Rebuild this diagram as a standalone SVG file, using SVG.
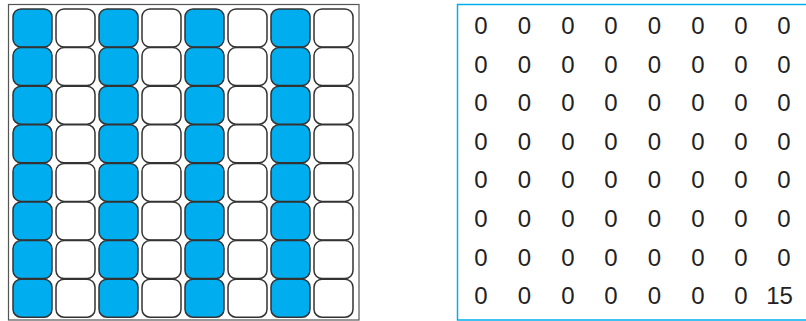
<svg xmlns="http://www.w3.org/2000/svg" width="806" height="321" viewBox="0 0 806 321">
<style>
.frame{fill:none;stroke:#555;stroke-width:1.2}
.panel{fill:none;stroke:#00AEEF;stroke-width:1.5}
.c{stroke:#333;stroke-width:1.5}
.b{fill:#00AEEF}
.w{fill:#fff}
.t{font-family:"Liberation Sans",Arial,sans-serif;font-size:24px;fill:#222;text-anchor:middle}
</style>
<rect width="806" height="321" fill="#fff"/>
<g id="grid">
<rect class="frame" x="8.5" y="4.5" width="350.5" height="315.5"/>
<g id="cells">
<rect class="c b" x="13" y="9" width="39" height="38" rx="8"/><rect class="c w" x="56" y="9" width="39" height="38" rx="8"/><rect class="c b" x="99" y="9" width="39" height="38" rx="8"/><rect class="c w" x="142" y="9" width="39" height="38" rx="8"/><rect class="c b" x="185" y="9" width="39" height="38" rx="8"/><rect class="c w" x="228" y="9" width="39" height="38" rx="8"/><rect class="c b" x="271" y="9" width="39" height="38" rx="8"/><rect class="c w" x="314" y="9" width="39" height="38" rx="8"/>
<rect class="c b" x="13" y="47.6" width="39" height="38" rx="8"/><rect class="c w" x="56" y="47.6" width="39" height="38" rx="8"/><rect class="c b" x="99" y="47.6" width="39" height="38" rx="8"/><rect class="c w" x="142" y="47.6" width="39" height="38" rx="8"/><rect class="c b" x="185" y="47.6" width="39" height="38" rx="8"/><rect class="c w" x="228" y="47.6" width="39" height="38" rx="8"/><rect class="c b" x="271" y="47.6" width="39" height="38" rx="8"/><rect class="c w" x="314" y="47.6" width="39" height="38" rx="8"/>
<rect class="c b" x="13" y="86.2" width="39" height="38" rx="8"/><rect class="c w" x="56" y="86.2" width="39" height="38" rx="8"/><rect class="c b" x="99" y="86.2" width="39" height="38" rx="8"/><rect class="c w" x="142" y="86.2" width="39" height="38" rx="8"/><rect class="c b" x="185" y="86.2" width="39" height="38" rx="8"/><rect class="c w" x="228" y="86.2" width="39" height="38" rx="8"/><rect class="c b" x="271" y="86.2" width="39" height="38" rx="8"/><rect class="c w" x="314" y="86.2" width="39" height="38" rx="8"/>
<rect class="c b" x="13" y="124.8" width="39" height="38" rx="8"/><rect class="c w" x="56" y="124.8" width="39" height="38" rx="8"/><rect class="c b" x="99" y="124.8" width="39" height="38" rx="8"/><rect class="c w" x="142" y="124.8" width="39" height="38" rx="8"/><rect class="c b" x="185" y="124.8" width="39" height="38" rx="8"/><rect class="c w" x="228" y="124.8" width="39" height="38" rx="8"/><rect class="c b" x="271" y="124.8" width="39" height="38" rx="8"/><rect class="c w" x="314" y="124.8" width="39" height="38" rx="8"/>
<rect class="c b" x="13" y="163.4" width="39" height="38" rx="8"/><rect class="c w" x="56" y="163.4" width="39" height="38" rx="8"/><rect class="c b" x="99" y="163.4" width="39" height="38" rx="8"/><rect class="c w" x="142" y="163.4" width="39" height="38" rx="8"/><rect class="c b" x="185" y="163.4" width="39" height="38" rx="8"/><rect class="c w" x="228" y="163.4" width="39" height="38" rx="8"/><rect class="c b" x="271" y="163.4" width="39" height="38" rx="8"/><rect class="c w" x="314" y="163.4" width="39" height="38" rx="8"/>
<rect class="c b" x="13" y="202" width="39" height="38" rx="8"/><rect class="c w" x="56" y="202" width="39" height="38" rx="8"/><rect class="c b" x="99" y="202" width="39" height="38" rx="8"/><rect class="c w" x="142" y="202" width="39" height="38" rx="8"/><rect class="c b" x="185" y="202" width="39" height="38" rx="8"/><rect class="c w" x="228" y="202" width="39" height="38" rx="8"/><rect class="c b" x="271" y="202" width="39" height="38" rx="8"/><rect class="c w" x="314" y="202" width="39" height="38" rx="8"/>
<rect class="c b" x="13" y="240.6" width="39" height="38" rx="8"/><rect class="c w" x="56" y="240.6" width="39" height="38" rx="8"/><rect class="c b" x="99" y="240.6" width="39" height="38" rx="8"/><rect class="c w" x="142" y="240.6" width="39" height="38" rx="8"/><rect class="c b" x="185" y="240.6" width="39" height="38" rx="8"/><rect class="c w" x="228" y="240.6" width="39" height="38" rx="8"/><rect class="c b" x="271" y="240.6" width="39" height="38" rx="8"/><rect class="c w" x="314" y="240.6" width="39" height="38" rx="8"/>
<rect class="c b" x="13" y="279.2" width="39" height="38" rx="8"/><rect class="c w" x="56" y="279.2" width="39" height="38" rx="8"/><rect class="c b" x="99" y="279.2" width="39" height="38" rx="8"/><rect class="c w" x="142" y="279.2" width="39" height="38" rx="8"/><rect class="c b" x="185" y="279.2" width="39" height="38" rx="8"/><rect class="c w" x="228" y="279.2" width="39" height="38" rx="8"/><rect class="c b" x="271" y="279.2" width="39" height="38" rx="8"/><rect class="c w" x="314" y="279.2" width="39" height="38" rx="8"/>
</g>
</g>
<g id="matrix">
<rect class="panel" x="457.5" y="4.5" width="360" height="315.5"/>
<g class="t">
<text x="481" y="34">0</text><text x="524.5" y="34">0</text><text x="568" y="34">0</text><text x="611" y="34">0</text><text x="654.5" y="34">0</text><text x="698" y="34">0</text><text x="741" y="34">0</text><text x="784" y="34">0</text>
<text x="481" y="72.6">0</text><text x="524.5" y="72.6">0</text><text x="568" y="72.6">0</text><text x="611" y="72.6">0</text><text x="654.5" y="72.6">0</text><text x="698" y="72.6">0</text><text x="741" y="72.6">0</text><text x="784" y="72.6">0</text>
<text x="481" y="111.2">0</text><text x="524.5" y="111.2">0</text><text x="568" y="111.2">0</text><text x="611" y="111.2">0</text><text x="654.5" y="111.2">0</text><text x="698" y="111.2">0</text><text x="741" y="111.2">0</text><text x="784" y="111.2">0</text>
<text x="481" y="149.8">0</text><text x="524.5" y="149.8">0</text><text x="568" y="149.8">0</text><text x="611" y="149.8">0</text><text x="654.5" y="149.8">0</text><text x="698" y="149.8">0</text><text x="741" y="149.8">0</text><text x="784" y="149.8">0</text>
<text x="481" y="188.4">0</text><text x="524.5" y="188.4">0</text><text x="568" y="188.4">0</text><text x="611" y="188.4">0</text><text x="654.5" y="188.4">0</text><text x="698" y="188.4">0</text><text x="741" y="188.4">0</text><text x="784" y="188.4">0</text>
<text x="481" y="227">0</text><text x="524.5" y="227">0</text><text x="568" y="227">0</text><text x="611" y="227">0</text><text x="654.5" y="227">0</text><text x="698" y="227">0</text><text x="741" y="227">0</text><text x="784" y="227">0</text>
<text x="481" y="265.6">0</text><text x="524.5" y="265.6">0</text><text x="568" y="265.6">0</text><text x="611" y="265.6">0</text><text x="654.5" y="265.6">0</text><text x="698" y="265.6">0</text><text x="741" y="265.6">0</text><text x="784" y="265.6">0</text>
<text x="481" y="304.2">0</text><text x="524.5" y="304.2">0</text><text x="568" y="304.2">0</text><text x="611" y="304.2">0</text><text x="654.5" y="304.2">0</text><text x="698" y="304.2">0</text><text x="741" y="304.2">0</text><text x="779.5" y="304.2">15</text>
</g>
</g>
</svg>
